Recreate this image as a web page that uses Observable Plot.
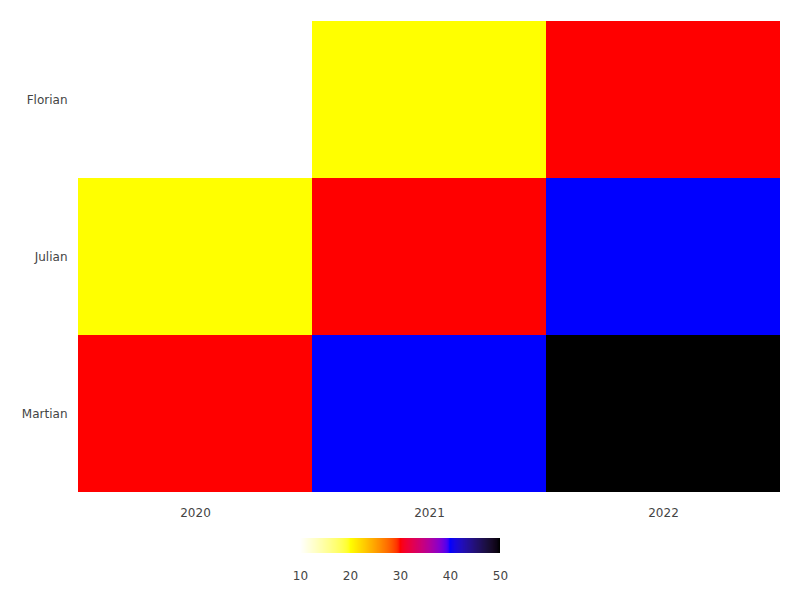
<!DOCTYPE html>
<html>
<head>
<meta charset="utf-8">
<script src="https://cdn.jsdelivr.net/npm/d3@7"></script>
<script src="https://cdn.jsdelivr.net/npm/@observablehq/plot@0.6"></script>
<style>
  body { margin: 0; background: #fff; }
  #wrap { position: relative; width: 800px; height: 600px; font-family: "DejaVu Sans", sans-serif; }
  #chart { position: absolute; left: 0; top: 0; }
  #legend { position: absolute; left: 280px; top: 538px; }
</style>
</head>
<body>
<div id="wrap"><div id="chart"></div><div id="legend"></div></div>
<script>
const years = ["2020", "2021", "2022"];
const names = ["Florian", "Julian", "Martian"];
const florian = [10, 20, 30];
const julian = [20, 30, 40];
const martian = [30, 40, 50];
const colorStops = [10, 20, 30, 40, 50];
const colorRange = ["#ffffff", "#ffff00", "#ff0000", "#0000ff", "#000000"];

const rows = [florian, julian, martian];
const data = [];
names.forEach((n, i) => years.forEach((y, j) => data.push({name: n, year: y, value: rows[i][j]})));

const colorOpts = {type: "linear", domain: colorStops, range: colorRange, interpolate: "lab"};

const chart = Plot.plot({
  width: 800,
  height: 530,
  marginTop: 20,
  marginLeft: 78,
  marginRight: 20,
  marginBottom: 37,
  style: {fontFamily: "DejaVu Sans", fontSize: "12px", color: "#444", background: "#fff"},
  x: {domain: years, padding: 0, tickSize: 0, tickPadding: 15, label: null},
  y: {domain: names, padding: 0, tickSize: 0, tickPadding: 11, label: null},
  color: colorOpts,
  marks: [
    Plot.cell(data, {x: "year", y: "name", fill: "value", inset: 0})
  ]
});
document.getElementById("chart").appendChild(chart);

const legend = Plot.legend({
  color: colorOpts,
  width: 240,
  height: 60,
  marginLeft: 20,
  marginRight: 20,
  marginTop: 0,
  marginBottom: 45,
  tickSize: 0,
  ticks: 5,
  style: {fontFamily: "DejaVu Sans", fontSize: "12px", color: "#444", overflow: "visible"}
});
d3.select(legend).selectAll(".tick line").remove();
d3.select(legend).selectAll(".tick text").attr("y", 18);
document.getElementById("legend").appendChild(legend);
</script>
</body>
</html>
